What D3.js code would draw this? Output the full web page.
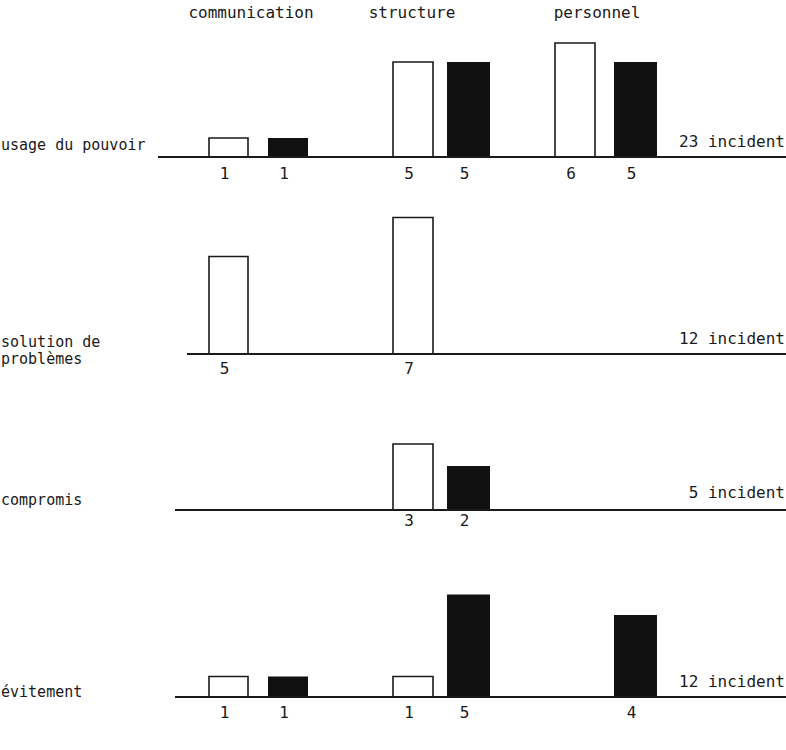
<!DOCTYPE html>
<html><head><meta charset="utf-8">
<script src="https://cdn.jsdelivr.net/npm/d3@7"></script>
<style>
html,body{margin:0;padding:0;background:#fff;}
svg{display:block;}
text{font-family:"DejaVu Sans Mono","Liberation Mono",monospace;fill:#1a1a1a;}
</style></head>
<body>
<svg id="chart" width="786" height="750"></svg>
<script>
// ---- data ----
const categories = ["communication", "structure", "personnel"];
const modes = ["usage du pouvoir", "solution de|problèmes", "compromis", "évitement"];
const totals = ["23 incident", "12 incident", "5 incident", "12 incident"];
// white (open) bars per mode, by category
const whiteValues = [
  [1, 5, 6],
  [5, 7, null],
  [null, 3, null],
  [1, 1, null]
];
// black (filled) bars per mode, by category
const blackValues = [
  [1, 5, 5],
  [null, null, null],
  [null, 2, null],
  [1, 5, 4]
];

// ---- layout ----
const svg = d3.select("#chart");
const slots = [];
categories.forEach(c => { slots.push(c + "|w"); slots.push(c + "|b"); });
const xScale = d3.scaleOrdinal().domain(slots).range([209, 268, 393, 447, 555, 614]);
const wScale = d3.scaleOrdinal().domain(slots).range([39, 40, 40, 43, 40, 43]);
const headerX = d3.scaleOrdinal().domain(categories).range([251, 412, 597]);

const panels = [
  {base: 157, unit: 19, lineX0: 158, totalY: 147, labelY: [150], numY: 179},
  {base: 354, unit: 19.5, lineX0: 187, totalY: 344, labelY: [347, 364], numY: 374},
  {base: 510, unit: 22,   lineX0: 175, totalY: 498, labelY: [505], numY: 526},
  {base: 697, unit: 20.5, lineX0: 175, totalY: 687, labelY: [697], numY: 718}
];

// headers
svg.selectAll("text.hdr").data(categories).join("text")
  .attr("class", "hdr")
  .attr("x", d => headerX(d)).attr("y", 18)
  .attr("text-anchor", "middle")
  .style("font-size", "16px")
  .text(d => d);

panels.forEach((p, i) => {
  const g = svg.append("g");
  const y = d3.scaleLinear().domain([0, 1]).range([p.base, p.base - p.unit]);

  const bars = [];
  categories.forEach((c, ci) => {
    if (whiteValues[i][ci] != null) bars.push({slot: c + "|w", v: whiteValues[i][ci], black: false});
    if (blackValues[i][ci] != null) bars.push({slot: c + "|b", v: blackValues[i][ci], black: true});
  });

  // filled bars
  g.selectAll("rect.blk").data(bars.filter(b => b.black)).join("rect")
    .attr("class", "blk")
    .attr("x", d => xScale(d.slot)).attr("width", d => wScale(d.slot))
    .attr("y", d => y(d.v)).attr("height", d => p.base - y(d.v))
    .attr("fill", "#111");

  // open bars (three sides)
  g.selectAll("path.wht").data(bars.filter(b => !b.black)).join("path")
    .attr("class", "wht")
    .attr("d", d => {
      const x0 = xScale(d.slot), x1 = x0 + wScale(d.slot), yt = y(d.v);
      return `M${x0},${p.base}L${x0},${yt}L${x1},${yt}L${x1},${p.base}`;
    })
    .attr("fill", "none").attr("stroke", "#1a1a1a").attr("stroke-width", 1.6);

  // baseline
  g.append("line")
    .attr("x1", p.lineX0).attr("x2", 786)
    .attr("y1", p.base).attr("y2", p.base)
    .attr("stroke", "#1a1a1a").attr("stroke-width", 2);

  // value labels
  g.selectAll("text.num").data(bars).join("text")
    .attr("class", "num")
    .attr("x", d => xScale(d.slot) + wScale(d.slot) / 2 - 4)
    .attr("y", p.numY)
    .attr("text-anchor", "middle")
    .style("font-size", "16px")
    .text(d => d.v);

  // total
  g.append("text")
    .attr("x", 785).attr("y", p.totalY)
    .attr("text-anchor", "end")
    .style("font-size", "16px")
    .text(totals[i]);

  // mode label
  const lines = modes[i].split("|");
  lines.forEach((ln, li) => {
    g.append("text")
      .attr("x", 1)
      .attr("y", p.labelY[li])
      .style("font-size", "15px")
      .text(ln);
  });
});
</script>
</body></html>
